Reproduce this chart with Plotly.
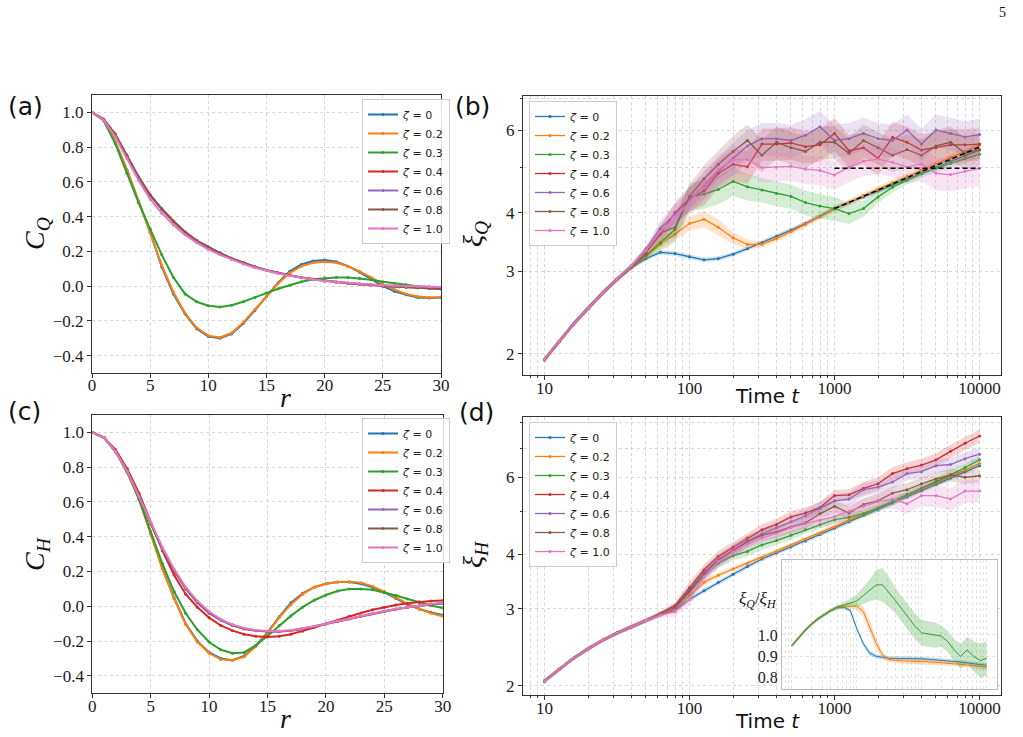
import plotly.graph_objects as go

W, H = 1023, 737

# ---------------- data ----------------
zeta_names = ["0", "0.2", "0.3", "0.4", "0.6", "0.8", "1.0"]
series_colors = ["#1f77b4", "#ff7f0e", "#2ca02c", "#d62728", "#9467bd", "#8c564b", "#e377c2"]

r_vals = list(range(31))

# panel (a): C_Q(r)
CQ_z0 = [1.0, 0.955, 0.83, 0.67, 0.49, 0.31, 0.11, -0.045, -0.16, -0.245, -0.29, -0.30, -0.275, -0.215, -0.14, -0.06, 0.02, 0.085, 0.125, 0.145, 0.15, 0.14, 0.115, 0.08, 0.04, 0.0, -0.03, -0.05, -0.065, -0.068, -0.065]
CQ_z02 = [1.0, 0.955, 0.83, 0.67, 0.49, 0.31, 0.12, -0.035, -0.155, -0.24, -0.285, -0.295, -0.27, -0.21, -0.135, -0.06, 0.015, 0.075, 0.115, 0.135, 0.14, 0.135, 0.115, 0.085, 0.05, 0.01, -0.02, -0.045, -0.06, -0.065, -0.062]
CQ_z03 = [1.0, 0.955, 0.82, 0.65, 0.48, 0.33, 0.18, 0.05, -0.045, -0.09, -0.113, -0.12, -0.11, -0.09, -0.065, -0.04, -0.015, 0.005, 0.025, 0.04, 0.047, 0.05, 0.05, 0.045, 0.037, 0.025, 0.015, 0.008, 0.0, -0.005, -0.008]
CQ_z04 = [1.0, 0.96, 0.875, 0.755, 0.63, 0.525, 0.445, 0.375, 0.312, 0.262, 0.225, 0.19, 0.16, 0.135, 0.112, 0.092, 0.076, 0.062, 0.05, 0.04, 0.031, 0.024, 0.017, 0.011, 0.006, 0.002, -0.002, -0.006, -0.01, -0.013, -0.016]
CQ_z06 = [1.0, 0.96, 0.87, 0.75, 0.625, 0.525, 0.445, 0.372, 0.31, 0.26, 0.225, 0.19, 0.16, 0.135, 0.11, 0.09, 0.075, 0.06, 0.048, 0.038, 0.03, 0.024, 0.018, 0.012, 0.007, 0.003, 0.0, -0.004, -0.008, -0.011, -0.014]
CQ_z08 = [1.0, 0.96, 0.872, 0.752, 0.628, 0.522, 0.442, 0.372, 0.31, 0.261, 0.224, 0.19, 0.16, 0.134, 0.111, 0.091, 0.075, 0.061, 0.049, 0.039, 0.03, 0.023, 0.017, 0.011, 0.006, 0.002, -0.002, -0.005, -0.009, -0.012, -0.015]
CQ_z10 = [1.0, 0.955, 0.86, 0.735, 0.61, 0.50, 0.42, 0.352, 0.295, 0.25, 0.212, 0.18, 0.152, 0.128, 0.106, 0.088, 0.073, 0.06, 0.048, 0.038, 0.03, 0.024, 0.018, 0.013, 0.009, 0.005, 0.002, 0.0, -0.002, -0.004, -0.005]

# panel (c): C_H(r)
CH_z0 = [1.0, 0.97, 0.89, 0.77, 0.62, 0.42, 0.22, 0.05, -0.10, -0.20, -0.265, -0.30, -0.31, -0.285, -0.225, -0.15, -0.06, 0.02, 0.075, 0.11, 0.13, 0.14, 0.14, 0.13, 0.11, 0.08, 0.045, 0.01, -0.015, -0.035, -0.05]
CH_z02 = [1.0, 0.97, 0.89, 0.77, 0.615, 0.415, 0.215, 0.045, -0.105, -0.205, -0.27, -0.305, -0.31, -0.29, -0.23, -0.155, -0.065, 0.01, 0.07, 0.11, 0.13, 0.14, 0.142, 0.135, 0.115, 0.085, 0.05, 0.015, -0.015, -0.04, -0.057]
CH_z03 = [1.0, 0.97, 0.89, 0.77, 0.615, 0.43, 0.245, 0.085, -0.04, -0.135, -0.205, -0.25, -0.27, -0.265, -0.225, -0.17, -0.11, -0.055, -0.005, 0.035, 0.065, 0.088, 0.1, 0.1, 0.095, 0.08, 0.062, 0.042, 0.022, 0.005, -0.01]
CH_z04 = [1.0, 0.97, 0.90, 0.79, 0.65, 0.48, 0.32, 0.18, 0.07, -0.005, -0.065, -0.11, -0.14, -0.16, -0.172, -0.176, -0.172, -0.16, -0.143, -0.122, -0.1, -0.078, -0.057, -0.038, -0.02, -0.005, 0.008, 0.018, 0.026, 0.031, 0.034]
CH_z06 = [1.0, 0.97, 0.89, 0.78, 0.635, 0.475, 0.33, 0.205, 0.10, 0.02, -0.04, -0.08, -0.11, -0.13, -0.14, -0.145, -0.145, -0.14, -0.13, -0.115, -0.10, -0.085, -0.07, -0.055, -0.04, -0.028, -0.015, -0.005, 0.005, 0.012, 0.018]
CH_z08 = [1.0, 0.97, 0.89, 0.778, 0.633, 0.476, 0.332, 0.208, 0.104, 0.024, -0.036, -0.077, -0.108, -0.128, -0.139, -0.144, -0.144, -0.139, -0.129, -0.116, -0.102, -0.088, -0.073, -0.058, -0.043, -0.03, -0.017, -0.006, 0.004, 0.011, 0.017]
CH_z10 = [1.0, 0.97, 0.89, 0.775, 0.63, 0.48, 0.34, 0.215, 0.11, 0.03, -0.03, -0.075, -0.105, -0.125, -0.137, -0.142, -0.142, -0.137, -0.128, -0.115, -0.1, -0.085, -0.07, -0.055, -0.04, -0.027, -0.015, -0.004, 0.006, 0.014, 0.02]

# panels (b), (d), inset: time points
time_pts = [10, 12.6, 15.8, 20, 25.1, 31.6, 39.8, 50.1, 63.1, 79.4, 100, 126, 158, 200, 251, 316, 398, 501, 631, 794,
            1000, 1259, 1585, 1995, 2512, 3162, 3981, 5012, 6310, 7943, 10000]

# panel (b): xi_Q(t)
xiQ_z0 = [1.94, 2.12, 2.31, 2.50, 2.69, 2.88, 3.05, 3.19, 3.29, 3.27, 3.22, 3.17, 3.19, 3.26, 3.35, 3.45, 3.56, 3.67, 3.79, 3.93, 4.08, 4.20, 4.32, 4.45, 4.58, 4.71, 4.85, 4.99, 5.14, 5.29, 5.44]
xiQ_z02 = [1.94, 2.12, 2.31, 2.50, 2.69, 2.88, 3.06, 3.22, 3.42, 3.60, 3.79, 3.87, 3.72, 3.53, 3.42, 3.42, 3.52, 3.64, 3.77, 3.92, 4.07, 4.21, 4.35, 4.49, 4.63, 4.78, 4.93, 5.08, 5.24, 5.40, 5.57]
xiQ_z03 = [1.94, 2.12, 2.31, 2.50, 2.69, 2.88, 3.07, 3.24, 3.45, 3.68, 4.32, 4.38, 4.48, 4.66, 4.54, 4.47, 4.39, 4.33, 4.20, 4.13, 4.08, 3.98, 4.08, 4.32, 4.53, 4.69, 4.84, 4.97, 5.09, 5.21, 5.33]
xiQ_z04 = [1.94, 2.12, 2.31, 2.50, 2.69, 2.88, 3.07, 3.28, 3.60, 4.00, 4.28, 4.45, 4.85, 5.07, 5.01, 5.60, 5.60, 5.63, 5.53, 5.58, 5.90, 5.42, 5.50, 5.22, 5.79, 5.65, 5.44, 5.50, 5.58, 5.58, 5.60]
xiQ_z06 = [1.94, 2.12, 2.31, 2.50, 2.69, 2.88, 3.08, 3.35, 3.70, 3.97, 4.27, 4.57, 4.90, 5.22, 5.55, 5.75, 5.75, 5.70, 5.85, 6.10, 5.70, 5.75, 5.90, 5.75, 5.70, 6.00, 5.60, 6.00, 5.90, 5.80, 5.87]
xiQ_z08 = [1.94, 2.12, 2.31, 2.50, 2.69, 2.88, 3.07, 3.30, 3.62, 3.72, 4.33, 4.72, 5.07, 5.40, 5.70, 5.30, 5.65, 5.50, 5.40, 5.65, 5.65, 5.35, 5.70, 5.50, 5.30, 5.45, 5.30, 5.55, 5.65, 5.35, 5.45]
xiQ_z10 = [1.94, 2.12, 2.31, 2.50, 2.69, 2.88, 3.08, 3.32, 3.65, 3.90, 4.20, 4.60, 4.95, 5.18, 5.19, 4.99, 5.00, 5.02, 4.95, 4.92, 4.81, 5.00, 5.15, 5.20, 5.12, 5.00, 5.08, 4.85, 4.82, 4.90, 4.97]

# relative half-widths of the shaded bands in (b)
errQ_z0 = [0.012, 0.012, 0.012, 0.012, 0.012, 0.012, 0.012, 0.012, 0.012, 0.012, 0.012, 0.012, 0.012, 0.012, 0.012, 0.012, 0.012, 0.012, 0.012, 0.012, 0.012, 0.012, 0.012, 0.012, 0.012, 0.012, 0.012, 0.012, 0.012, 0.012, 0.012]
errQ_z02 = [0.012, 0.012, 0.012, 0.012, 0.012, 0.012, 0.012, 0.012, 0.02, 0.03, 0.035, 0.04, 0.04, 0.03, 0.025, 0.015, 0.015, 0.015, 0.015, 0.015, 0.015, 0.015, 0.015, 0.015, 0.015, 0.015, 0.015, 0.015, 0.015, 0.015, 0.015]
errQ_z03 = [0.012, 0.012, 0.012, 0.012, 0.012, 0.012, 0.012, 0.012, 0.04, 0.06, 0.07, 0.07, 0.07, 0.07, 0.065, 0.06, 0.06, 0.06, 0.06, 0.06, 0.06, 0.05, 0.04, 0.03, 0.025, 0.02, 0.02, 0.02, 0.02, 0.02, 0.02]
errQ_z04 = [0.012, 0.012, 0.012, 0.012, 0.012, 0.012, 0.012, 0.015, 0.04, 0.05, 0.06, 0.07, 0.07, 0.08, 0.08, 0.08, 0.08, 0.08, 0.08, 0.08, 0.08, 0.08, 0.08, 0.08, 0.08, 0.08, 0.08, 0.08, 0.08, 0.08, 0.08]
errQ_z06 = [0.012, 0.012, 0.012, 0.012, 0.012, 0.012, 0.012, 0.015, 0.04, 0.05, 0.06, 0.07, 0.07, 0.08, 0.08, 0.08, 0.08, 0.08, 0.08, 0.08, 0.08, 0.08, 0.08, 0.08, 0.08, 0.08, 0.08, 0.08, 0.08, 0.08, 0.08]
errQ_z08 = [0.012, 0.012, 0.012, 0.012, 0.012, 0.012, 0.012, 0.015, 0.04, 0.05, 0.06, 0.07, 0.07, 0.08, 0.08, 0.08, 0.08, 0.08, 0.08, 0.08, 0.08, 0.08, 0.08, 0.08, 0.08, 0.08, 0.08, 0.08, 0.08, 0.08, 0.08]
errQ_z10 = [0.012, 0.012, 0.012, 0.012, 0.012, 0.012, 0.012, 0.015, 0.04, 0.05, 0.06, 0.07, 0.07, 0.07, 0.07, 0.07, 0.07, 0.07, 0.07, 0.07, 0.07, 0.07, 0.07, 0.07, 0.07, 0.08, 0.08, 0.08, 0.08, 0.08, 0.08]

# reference lines in (b)
fit_t = [1000, 10000]
fit_power = [4.08, 5.52]
fit_flat = [4.97, 4.97]

# panel (d): xi_H(t)
xiH_z0 = [2.05, 2.18, 2.31, 2.43, 2.54, 2.64, 2.73, 2.82, 2.91, 2.98, 3.15, 3.30, 3.45, 3.60, 3.75, 3.90, 4.03, 4.16, 4.29, 4.44, 4.59, 4.75, 4.91, 5.07, 5.24, 5.41, 5.59, 5.78, 5.98, 6.18, 6.38]
xiH_z02 = [2.05, 2.18, 2.31, 2.43, 2.54, 2.64, 2.73, 2.82, 2.91, 2.99, 3.22, 3.45, 3.58, 3.70, 3.81, 3.93, 4.06, 4.19, 4.33, 4.47, 4.62, 4.78, 4.94, 5.11, 5.28, 5.46, 5.64, 5.83, 6.03, 6.24, 6.45]
xiH_z03 = [2.05, 2.18, 2.31, 2.43, 2.54, 2.64, 2.73, 2.82, 2.92, 3.02, 3.28, 3.58, 3.82, 3.97, 4.06, 4.20, 4.30, 4.42, 4.55, 4.68, 4.80, 4.86, 4.96, 5.10, 5.28, 5.48, 5.67, 5.87, 6.08, 6.32, 6.58]
xiH_z04 = [2.05, 2.18, 2.31, 2.43, 2.54, 2.64, 2.73, 2.82, 2.93, 3.05, 3.35, 3.68, 3.95, 4.15, 4.35, 4.55, 4.68, 4.87, 4.97, 5.12, 5.45, 5.47, 5.66, 5.80, 6.12, 6.28, 6.40, 6.58, 6.88, 7.18, 7.46]
xiH_z06 = [2.05, 2.18, 2.31, 2.43, 2.54, 2.64, 2.73, 2.82, 2.92, 3.02, 3.30, 3.62, 3.88, 4.08, 4.28, 4.45, 4.60, 4.75, 4.90, 5.10, 5.30, 5.35, 5.62, 5.70, 5.85, 6.12, 6.18, 6.38, 6.42, 6.62, 6.78]
xiH_z08 = [2.05, 2.18, 2.31, 2.43, 2.54, 2.64, 2.73, 2.82, 2.92, 3.02, 3.30, 3.62, 3.88, 4.08, 4.28, 4.42, 4.50, 4.62, 4.72, 4.95, 5.15, 4.97, 5.20, 5.30, 5.52, 5.62, 5.80, 5.95, 6.08, 6.00, 6.05]
xiH_z10 = [2.05, 2.18, 2.31, 2.43, 2.54, 2.64, 2.73, 2.82, 2.90, 2.95, 3.15, 3.55, 3.85, 4.05, 4.22, 4.36, 4.46, 4.60, 4.70, 4.78, 4.88, 5.02, 5.15, 5.28, 5.35, 5.22, 5.45, 5.45, 5.35, 5.58, 5.58]

errH_z0 = [0.01, 0.01, 0.01, 0.01, 0.01, 0.01, 0.01, 0.01, 0.01, 0.01, 0.012, 0.012, 0.012, 0.012, 0.012, 0.012, 0.012, 0.012, 0.012, 0.012, 0.012, 0.012, 0.012, 0.012, 0.012, 0.012, 0.012, 0.012, 0.012, 0.012, 0.012]
errH_z02 = [0.01, 0.01, 0.01, 0.01, 0.01, 0.01, 0.01, 0.01, 0.01, 0.01, 0.015, 0.015, 0.015, 0.012, 0.012, 0.012, 0.012, 0.012, 0.012, 0.012, 0.012, 0.012, 0.012, 0.012, 0.012, 0.012, 0.012, 0.012, 0.012, 0.012, 0.012]
errH_z03 = [0.01, 0.01, 0.01, 0.01, 0.01, 0.01, 0.01, 0.01, 0.012, 0.015, 0.02, 0.025, 0.025, 0.025, 0.025, 0.025, 0.025, 0.025, 0.02, 0.02, 0.02, 0.02, 0.02, 0.02, 0.02, 0.02, 0.02, 0.02, 0.02, 0.02, 0.02]
errH_z04 = [0.01, 0.01, 0.01, 0.01, 0.01, 0.01, 0.01, 0.01, 0.012, 0.02, 0.03, 0.03, 0.03, 0.03, 0.03, 0.03, 0.03, 0.03, 0.03, 0.03, 0.03, 0.03, 0.035, 0.035, 0.035, 0.035, 0.035, 0.035, 0.035, 0.035, 0.035]
errH_z06 = [0.01, 0.01, 0.01, 0.01, 0.01, 0.01, 0.01, 0.01, 0.012, 0.02, 0.03, 0.03, 0.03, 0.03, 0.03, 0.03, 0.03, 0.03, 0.035, 0.035, 0.035, 0.035, 0.035, 0.035, 0.035, 0.035, 0.035, 0.035, 0.035, 0.035, 0.035]
errH_z08 = [0.01, 0.01, 0.01, 0.01, 0.01, 0.01, 0.01, 0.01, 0.012, 0.02, 0.03, 0.03, 0.03, 0.03, 0.03, 0.03, 0.03, 0.03, 0.03, 0.03, 0.035, 0.035, 0.035, 0.035, 0.035, 0.035, 0.035, 0.035, 0.035, 0.035, 0.035]
errH_z10 = [0.01, 0.01, 0.01, 0.01, 0.01, 0.01, 0.01, 0.01, 0.015, 0.025, 0.03, 0.035, 0.035, 0.035, 0.035, 0.035, 0.035, 0.035, 0.035, 0.035, 0.04, 0.04, 0.04, 0.045, 0.05, 0.05, 0.055, 0.06, 0.06, 0.06, 0.06]

# inset: xi_Q / xi_H
ratio_z0 = [0.95, 0.985, 1.02, 1.05, 1.075, 1.095, 1.115, 1.13, 1.13, 1.115, 1.03, 0.96, 0.915, 0.90, 0.895, 0.89, 0.89, 0.89, 0.89, 0.89, 0.888, 0.886, 0.884, 0.882, 0.88, 0.877, 0.873, 0.869, 0.865, 0.861, 0.857]
ratio_z02 = [0.95, 0.985, 1.02, 1.05, 1.075, 1.095, 1.115, 1.13, 1.135, 1.135, 1.135, 1.11, 1.04, 0.96, 0.905, 0.885, 0.88, 0.878, 0.876, 0.875, 0.875, 0.874, 0.872, 0.87, 0.868, 0.865, 0.862, 0.858, 0.855, 0.852, 0.848]
ratio_z03 = [0.95, 0.985, 1.02, 1.05, 1.075, 1.095, 1.115, 1.13, 1.14, 1.15, 1.16, 1.185, 1.21, 1.235, 1.235, 1.20, 1.16, 1.12, 1.08, 1.04, 1.01, 1.005, 1.0, 0.995, 0.97, 0.93, 0.90, 0.93, 0.90, 0.88, 0.89]
err_ratio_z0 = [0.008, 0.008, 0.008, 0.008, 0.008, 0.008, 0.008, 0.008, 0.008, 0.008, 0.01, 0.012, 0.012, 0.01, 0.01, 0.01, 0.01, 0.01, 0.01, 0.01, 0.01, 0.01, 0.01, 0.01, 0.01, 0.01, 0.01, 0.01, 0.01, 0.01, 0.01]
err_ratio_z02 = [0.008, 0.008, 0.008, 0.008, 0.008, 0.008, 0.008, 0.01, 0.01, 0.01, 0.015, 0.025, 0.03, 0.025, 0.015, 0.012, 0.012, 0.012, 0.012, 0.012, 0.012, 0.012, 0.012, 0.012, 0.012, 0.012, 0.012, 0.012, 0.012, 0.012, 0.012]
err_ratio_z03 = [0.008, 0.008, 0.008, 0.008, 0.008, 0.008, 0.008, 0.01, 0.015, 0.02, 0.03, 0.04, 0.05, 0.07, 0.08, 0.07, 0.06, 0.06, 0.06, 0.06, 0.06, 0.06, 0.06, 0.05, 0.05, 0.05, 0.06, 0.06, 0.07, 0.08, 0.08]

# tick values
r_ticks = [0, 5, 10, 15, 20, 25, 30]
C_ticks = [-0.4, -0.2, 0.0, 0.2, 0.4, 0.6, 0.8, 1.0]
time_major = [10, 100, 1000, 10000]
time_major_text = ["10", "100", "1000", "10000"]
time_minor = [8, 9, 20, 30, 40, 50, 60, 70, 80, 90, 200, 300, 400, 500, 600, 700, 800, 900,
              2000, 3000, 4000, 5000, 6000, 7000, 8000, 9000]
xi_ticks = [2, 3, 4, 6]
xi_ticks_text = ["2", "3", "4", "6"]
xiQ_minor = [5, 7]
xiH_minor = [5, 7, 8]
ratio_ticks = [0.8, 0.9, 1.0]

CQ = [CQ_z0, CQ_z02, CQ_z03, CQ_z04, CQ_z06, CQ_z08, CQ_z10]
CH = [CH_z0, CH_z02, CH_z03, CH_z04, CH_z06, CH_z08, CH_z10]
XIQ = [xiQ_z0, xiQ_z02, xiQ_z03, xiQ_z04, xiQ_z06, xiQ_z08, xiQ_z10]
ERRQ = [errQ_z0, errQ_z02, errQ_z03, errQ_z04, errQ_z06, errQ_z08, errQ_z10]
XIH = [xiH_z0, xiH_z02, xiH_z03, xiH_z04, xiH_z06, xiH_z08, xiH_z10]
ERRH = [errH_z0, errH_z02, errH_z03, errH_z04, errH_z06, errH_z08, errH_z10]
RATIO = [ratio_z0, ratio_z02, ratio_z03]
ERRR = [err_ratio_z0, err_ratio_z02, err_ratio_z03]

for arr in CQ + CH:
    assert len(arr) == len(r_vals)
for arr in XIQ + ERRQ + XIH + ERRH + RATIO + ERRR:
    assert len(arr) == len(time_pts)


def rgba(hexc, a):
    h = hexc.lstrip("#")
    return "rgba(%d,%d,%d,%s)" % (int(h[0:2], 16), int(h[2:4], 16), int(h[4:6], 16), a)


fig = go.Figure()


def add_band(xa, ya, x, lo, hi, color, alpha=0.2):
    fig.add_trace(go.Scatter(
        x=list(x) + list(x)[::-1], y=list(hi) + list(lo)[::-1],
        fill="toself", fillcolor=rgba(color, alpha), mode="lines",
        line=dict(width=0, color=rgba(color, 0)), hoverinfo="skip",
        showlegend=False, xaxis=xa, yaxis=ya))


def add_line(xa, ya, x, y, color, name, legend, width, msize, show=True):
    fig.add_trace(go.Scatter(
        x=x, y=y, mode="lines+markers", name=name,
        line=dict(color=color, width=width),
        marker=dict(color=color, size=msize),
        showlegend=show, legend=legend, xaxis=xa, yaxis=ya))


def legend_name(z):
    return "<i>ζ</i> = " + z

# (a)
for i in range(7):
    add_line("x", "y", r_vals, CQ[i], series_colors[i], legend_name(zeta_names[i]), "legend", 2.0, 3)
# (b)
for i in range(7):
    y = XIQ[i]
    e = ERRQ[i]
    add_band("x2", "y2", time_pts, [v * (1 - d) for v, d in zip(y, e)], [v * (1 + d) for v, d in zip(y, e)], series_colors[i])
    add_line("x2", "y2", time_pts, y, series_colors[i], legend_name(zeta_names[i]), "legend2", 1.3, 3)
fig.add_trace(go.Scatter(x=fit_t, y=fit_power, mode="lines", line=dict(color="black", width=1.5, dash="5px,3px"),
                         showlegend=False, xaxis="x2", yaxis="y2"))
fig.add_trace(go.Scatter(x=fit_t, y=fit_flat, mode="lines", line=dict(color="black", width=1.5, dash="5px,3px"),
                         showlegend=False, xaxis="x2", yaxis="y2"))
# (c)
for i in range(7):
    add_line("x3", "y3", r_vals, CH[i], series_colors[i], legend_name(zeta_names[i]), "legend3", 2.0, 3)
# (d)
for i in range(7):
    y = XIH[i]
    e = ERRH[i]
    add_band("x4", "y4", time_pts, [v * (1 - d) for v, d in zip(y, e)], [v * (1 + d) for v, d in zip(y, e)], series_colors[i])
    add_line("x4", "y4", time_pts, y, series_colors[i], legend_name(zeta_names[i]), "legend4", 1.3, 3)
# inset
for i in range(3):
    y = RATIO[i]
    e = ERRR[i]
    add_band("x5", "y5", time_pts, [v - d for v, d in zip(y, e)], [v + d for v, d in zip(y, e)], series_colors[i], 0.25)
    fig.add_trace(go.Scatter(x=time_pts, y=y, mode="lines", line=dict(color=series_colors[i], width=1),
                             showlegend=False, xaxis="x5", yaxis="y5"))

GRID = "#d6d6d6"
TICKFONT = dict(family="Liberation Serif", size=17, color="#1a1a1a")


def ax(**kw):
    d = dict(showline=True, linecolor="#333333", linewidth=1, mirror=True, ticks="outside", ticklen=4,
             tickwidth=1, tickcolor="#333333", tickfont=TICKFONT, showgrid=True, gridcolor=GRID,
             griddash="dot", gridwidth=1, zeroline=False, automargin=False)
    d.update(kw)
    return d


def minor(vals):
    return dict(tickmode="array", tickvals=vals, showgrid=True, gridcolor=GRID, griddash="dot",
                gridwidth=1, ticks="outside", ticklen=2, tickcolor="#333333")


def X(p):
    return p / W


def Y(p):
    return 1 - p / H


legend_common = dict(xanchor="left", yanchor="top", bgcolor="rgba(255,255,255,0.85)", bordercolor="#cccccc",
                     borderwidth=1, font=dict(family="DejaVu Sans", size=11, color="#222"), tracegroupgap=0,
                     itemwidth=30)

XSTAND = -7

fig.update_layout(
    width=W, height=H, autosize=False, template="none",
    margin=dict(l=0, r=0, t=0, b=0, pad=0),
    paper_bgcolor="white", plot_bgcolor="white",
    showlegend=True,
    xaxis=ax(domain=[X(92), X(441)], range=[0, 30], tickvals=r_ticks, ticklabelstandoff=XSTAND, anchor="y"),
    yaxis=ax(domain=[Y(373), Y(95)], range=[-0.5, 1.1], tickvals=C_ticks, tickformat=".1f", anchor="x"),
    xaxis2=ax(domain=[X(523), X(1001)], type="log", range=[0.852, 4.148], tickvals=time_major,
              ticktext=time_major_text, minor=minor(time_minor), ticklabelstandoff=XSTAND, anchor="y2"),
    yaxis2=ax(domain=[Y(375.3), Y(96)], type="log", range=[0.2547, 0.8508], tickvals=xi_ticks,
              ticktext=xi_ticks_text, minor=minor(xiQ_minor), anchor="x2"),
    xaxis3=ax(domain=[X(92.3), X(442.7)], range=[0, 30], tickvals=r_ticks, ticklabelstandoff=XSTAND, anchor="y3"),
    yaxis3=ax(domain=[Y(693.3), Y(415)], range=[-0.5, 1.1], tickvals=C_ticks, tickformat=".1f", anchor="x3"),
    xaxis4=ax(domain=[X(523), X(1001)], type="log", range=[0.852, 4.148], tickvals=time_major,
              ticktext=time_major_text, minor=minor(time_minor), ticklabelstandoff=XSTAND, anchor="y4"),
    yaxis4=ax(domain=[Y(695.3), Y(417.3)], type="log", range=[0.279, 0.9156], tickvals=xi_ticks,
              ticktext=xi_ticks_text, minor=minor(xiH_minor), anchor="x4"),
    xaxis5=ax(domain=[X(782), X(997)], type="log", range=[0.849, 4.16], tickvals=time_major,
              showticklabels=False, ticks="", linecolor="#bbbbbb", minor=dict(tickmode="array", tickvals=time_minor,
              showgrid=True, gridcolor="#e2e2e2", griddash="dot", gridwidth=1), gridcolor="#e2e2e2", anchor="y5"),
    yaxis5=ax(domain=[Y(689.3), Y(560)], range=[0.745, 1.352], tickvals=ratio_ticks, tickformat=".1f",
              ticks="", linecolor="#bbbbbb", gridcolor="#e2e2e2",
              tickfont=dict(family="Liberation Serif", size=16, color="#1a1a1a"), anchor="x5"),
    legend=dict(x=X(362), y=Y(99), **legend_common),
    legend2=dict(x=X(529), y=Y(101), **legend_common),
    legend3=dict(x=X(362), y=Y(418), **legend_common),
    legend4=dict(x=X(529), y=Y(422), **legend_common),
)


def note(text, x, y, size, family="DejaVu Sans", angle=0, color="#111"):
    fig.add_annotation(text=text, x=X(x), y=Y(y), xref="paper", yref="paper", showarrow=False,
                       xanchor="center", yanchor="middle", textangle=angle,
                       font=dict(family=family, size=size, color=color))


note("(a)", 25, 106, 25)
note("(b)", 472, 106, 25)
note("(c)", 24, 411, 25)
note("(d)", 476, 412, 25)
note("<i>C</i><sub><i>Q</i></sub>", 36, 234, 28, "Liberation Serif", -90)
note("<i>C</i><sub><i>H</i></sub>", 36, 554, 28, "Liberation Serif", -90)
note("<i>r</i>", 285, 397, 28, "Liberation Serif")
note("<i>r</i>", 285, 718, 28, "Liberation Serif")
note("<i>ξ</i><sub><i>Q</i></sub>", 474, 234, 28, "Liberation Serif", -90)
note("<i>ξ</i><sub><i>H</i></sub>", 474, 554, 28, "Liberation Serif", -90)
note("Time <i>t</i>", 767, 396, 20)
note("Time <i>t</i>", 767, 721, 20)
note("<i>ξ</i><sub><i>Q</i></sub>/<i>ξ</i><sub><i>H</i></sub>", 758, 600, 17, "Liberation Serif")
note("5", 1002, 12, 14, "Liberation Serif")

fig.write_html("out.html")
